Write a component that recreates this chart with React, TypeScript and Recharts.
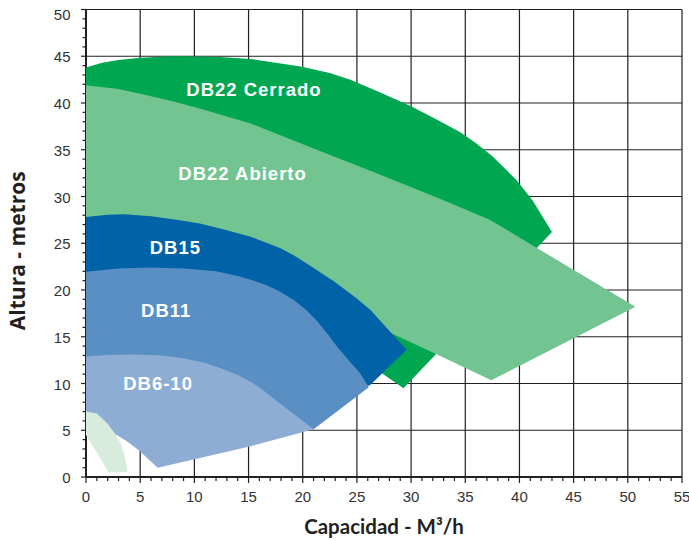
import React from "react";
import { ComposedChart, Scatter, XAxis, YAxis, CartesianGrid } from "recharts";

// Pump curve regions, outline vertices (Q m3/h, H m)
const DB22_CERRADO = [
  [0, 43.8], [1.5, 44.3], [3, 44.6], [5, 44.85], [8, 45.0], [12, 44.95], [15.2, 44.7],
  [19.8, 43.9], [22.5, 43.2], [24.4, 42.5], [27, 41.2], [29.9, 39.7], [32.4, 38.2],
  [34.5, 36.9], [36.0, 35.7], [37.5, 34.3], [39.7, 31.8], [41.2, 29.6], [43.0, 26.2],
  [29.3, 9.5], [27.3, 11.1], [22, 15], [10, 20], [0, 20],
];
const DB22_ABIERTO = [
  [0, 41.9], [3, 41.5], [5, 41.0], [8, 40.2], [10.5, 39.4], [15.2, 37.8], [21.3, 35.0],
  [27, 32.4], [33, 29.6], [37.3, 27.5], [41.6, 24.5], [50.7, 18.2], [37.4, 10.35],
  [32.4, 13.1], [28.3, 15.3], [22, 17], [10, 20], [0, 21],
];
const DB15 = [
  [0, 27.8], [2, 28.05], [3.5, 28.1], [6, 27.9], [8.5, 27.5], [10.5, 27.1], [13, 26.4],
  [15.2, 25.7], [17.9, 24.5], [19.2, 23.7], [20.4, 22.8], [22.8, 21.0], [25, 19.1],
  [26.3, 17.8], [27.4, 16.4], [29.6, 13.6], [26.2, 9.8], [20, 8], [10, 12], [0, 15],
];
const DB11 = [
  [0, 21.95], [3, 22.3], [6, 22.4], [9, 22.3], [12, 22.0], [14, 21.5], [15.2, 21.1],
  [16.5, 20.6], [17.8, 19.9], [19.2, 18.9], [20.3, 17.9], [21.3, 16.7], [22.3, 15.3],
  [23.2, 13.9], [24.3, 12.4], [25.3, 11.1], [26.1, 9.6], [21, 5.1], [15, 6], [5, 9], [0, 10],
];
const DB6_10 = [
  [0, 12.9], [2, 13.05], [4.5, 13.1], [7, 13.0], [9, 12.7], [11, 12.2], [12.5, 11.6],
  [14, 10.9], [15.2, 10.2], [16.2, 9.4], [17.2, 8.5], [18.2, 7.6], [19.2, 6.7], [20.1, 5.9],
  [21, 5.1], [15.2, 3.3], [6.62, 1.0], [4.87, 2.86], [3.8, 3.8], [2.87, 4.46], [0, 5.5],
];
const SMALL = [
  [0, 7.0], [1, 6.8], [2, 5.7], [2.7, 4.6], [3.2, 3.6], [3.6, 2.1], [3.85, 0.5],
  [2.1, 0.5], [0, 4.5],
];

const LABELS = [
  { x: 15.5, y: 41.4, text: "DB22 Cerrado" },
  { x: 14.45, y: 32.45, text: "DB22 Abierto" },
  { x: 8.25, y: 24.5, text: "DB15" },
  { x: 7.4, y: 17.8, text: "DB11" },
  { x: 6.65, y: 9.95, text: "DB6-10" },
];

const X_TICKS = Array.from({ length: 56 }, (_, i) => i);
const Y_TICKS = Array.from({ length: 51 }, (_, i) => i);
const X_GRID = [0, 5, 10, 15, 20, 25, 30, 35, 40, 45, 50, 55];
const Y_GRID = [0, 5, 10, 15, 20, 25, 30, 35, 40, 45, 50];

const toPts = (arr: number[][]) => arr.map(([x, y]) => ({ x, y }));

const INK = "#231f20";
const REGIONS = [
  { name: "cerrado", pts: DB22_CERRADO, color: "#00a650" },
  { name: "abierto", pts: DB22_ABIERTO, color: "#72c490" },
  { name: "db15", pts: DB15, color: "#0063a7" },
  { name: "db11", pts: DB11, color: "#5a8fc3" },
  { name: "db6", pts: DB6_10, color: "#8eadd5" },
  { name: "small", pts: SMALL, color: "#d7ecdc" },
];

const noDot = () => <g />;

const XTick = (props: any) => {
  const { x, y, payload } = props;
  const major = payload.value % 5 === 0;
  return (
    <g>
      <line x1={x} x2={x} y1={y} y2={y + (major ? 6 : 4)} stroke={INK} strokeWidth={1.2} />
      {major && (
        <text x={x} y={y + 25} textAnchor="middle" fontSize={15} fill="#333"
          fontFamily="'Liberation Sans', Arial, sans-serif">
          {payload.value}
        </text>
      )}
    </g>
  );
};

const YTick = (props: any) => {
  const { x, y, payload } = props;
  const major = payload.value % 5 === 0;
  return (
    <g>
      <line x1={x} x2={x - (major ? 5 : 3.5)} y1={y} y2={y} stroke={INK} strokeWidth={1.2} />
      {major && (
        <text x={x - 15.5} y={y + (payload.value === 50 ? 10.5 : 6)} textAnchor="end"
          fontSize={15} fill="#333" fontFamily="'Liberation Sans', Arial, sans-serif">
          {payload.value}
        </text>
      )}
    </g>
  );
};

const RegionLabel = (props: any) => {
  const { cx, cy, payload } = props;
  return (
    <text x={cx} y={cy + 6.5} textAnchor="middle" fill="#fff" fontSize={18.5} fontWeight="bold"
      letterSpacing={1} fontFamily="'Liberation Sans', Arial, sans-serif">
      {payload.text}
    </text>
  );
};

export default function App() {
  return (
    <div style={{ position: "absolute", left: 0, top: 0, background: "#fff" }}>
      <ComposedChart width={689} height={541} margin={{ top: 9.5, right: 7, bottom: 0, left: 0 }}>
        <CartesianGrid stroke={INK} strokeWidth={1.2} horizontalValues={Y_GRID} verticalValues={X_GRID} />
        <XAxis
          type="number"
          dataKey="x"
          domain={[0, 55]}
          ticks={X_TICKS}
          interval={0}
          height={64}
          tickSize={0}
          tickMargin={0}
          tickLine={false}
          tick={<XTick />}
          axisLine={{ stroke: INK, strokeWidth: 2 }}
          label={{
            value: "Capacidad - M³/h",
            position: "insideBottom",
            offset: 7,
            fill: INK,
            fontSize: 20.5,
            fontWeight: "bold",
            fontFamily: "Lato, 'Open Sans', sans-serif",
          }}
        />
        <YAxis
          type="number"
          dataKey="y"
          domain={[0, 50]}
          ticks={Y_TICKS}
          interval={0}
          width={86}
          tickSize={0}
          tickMargin={0}
          tickLine={false}
          tick={<YTick />}
          axisLine={{ stroke: INK, strokeWidth: 2 }}
          label={{
            content: (p: any) => {
              const vb = p.viewBox || { x: 0, y: 9.5, width: 86, height: 467 };
              const cx = vb.x + 25;
              const cy = vb.y + vb.height / 2 + 7.5;
              return (
                <text x={cx} y={cy} transform={`rotate(-90, ${cx}, ${cy})`} textAnchor="middle"
                  fill={INK} fontSize={21} fontWeight="bold" fontFamily="'Open Sans', sans-serif">
                  Altura - metros
                </text>
              );
            },
          }}
        />
        {REGIONS.map((r) => (
          <Scatter
            key={r.name}
            data={toPts(r.pts)}
            fill={r.color}
            line={{ fill: r.color, stroke: "none" }}
            lineJointType="linear"
            shape={noDot}
            isAnimationActive={false}
          />
        ))}
        <Scatter data={LABELS} fill="#fff" shape={<RegionLabel />} isAnimationActive={false} />
      </ComposedChart>
    </div>
  );
}
